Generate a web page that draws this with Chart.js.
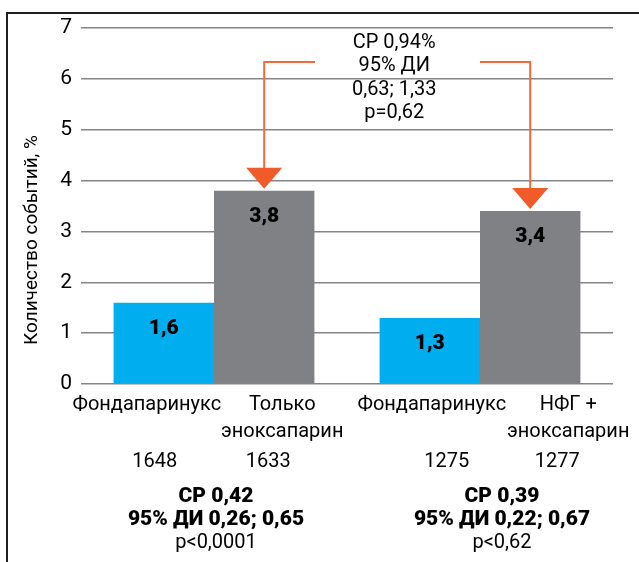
<!DOCTYPE html>
<html>
<head>
<meta charset="utf-8">
<script src="https://cdn.jsdelivr.net/npm/chart.js@4/dist/chart.umd.min.js"></script>
<style>
  html, body { margin: 0; padding: 0; background: #fff; }
  #wrap { width: 639px; height: 562px; position: relative; }
</style>
</head>
<body>
<div id="wrap"><canvas id="c"></canvas></div>
<script>
// ---- data ----
const groups = ['Группа 1', 'Группа 2'];
const fondaValues = [1.6, 1.3];
const comparatorValues = [3.8, 3.4];
const fondaLabels = [['Фондапаринукс'], ['Фондапаринукс']];
const comparatorLabels = [['Только', 'эноксапарин'], ['НФГ +', 'эноксапарин']];
const fondaN = ['1648', '1275'];
const comparatorN = ['1633', '1277'];
const groupStatsBold = [['СР 0,42', '95% ДИ 0,26; 0,65'], ['СР 0,39', '95% ДИ 0,22; 0,67']];
const groupStatsP = ['p<0,0001', 'p<0,62'];
const topAnnotation = ['СР 0,94%', '95% ДИ', '0,63; 1,33', 'p=0,62'];
const yAxisTitle = 'Количество событий, %';
const yMin = 0, yMax = 7, yStep = 1;

// ---- styles ----
const BLUE = '#00AEEF';
const GRAY = '#808184';
const ORANGE = '#F15A29';
const TEXT = '#000000';
const FONT = 'Roboto, "Open Sans", "DejaVu Sans", sans-serif';
// horizontal shifts of bottom labels relative to bar centers (style)
const fondaLabelShift = [-17, 2];
const compLabelShift = [18, 38];
const fondaNShift = [-9, 17];
const compNShift = [4, 27];

const fmt = v => String(v).replace('.', ',');

const overlay = {
  id: 'overlay',
  beforeDraw(chart) {
    const ctx = chart.ctx;
    ctx.save();
    ctx.fillStyle = '#fff';
    ctx.fillRect(0, 0, chart.width, chart.height);
    ctx.restore();
  },
  afterDatasetsDraw(chart) {
    const ctx = chart.ctx;
    const area = chart.chartArea;
    const metaF = chart.getDatasetMeta(0);
    const metaC = chart.getDatasetMeta(1);
    ctx.save();
    ctx.textAlign = 'center';
    ctx.textBaseline = 'middle';
    ctx.fillStyle = TEXT;

    // value labels inside bars
    ctx.font = '900 21px ' + FONT;
    [metaF, metaC].forEach((meta, di) => {
      meta.data.forEach((bar, j) => {
        const v = chart.data.datasets[di].data[j];
        ctx.fillText(fmt(v), bar.x, bar.y + 26);
      });
    });

    // bottom category labels
    const b = area.bottom;
    ctx.font = '20px ' + FONT;
    metaF.data.forEach((bar, j) => {
      fondaLabels[j].forEach((t, k) => ctx.fillText(t, bar.x + fondaLabelShift[j], b + 21 + k * 27));
      ctx.fillText(fondaN[j], bar.x + fondaNShift[j], b + 78);
    });
    metaC.data.forEach((bar, j) => {
      comparatorLabels[j].forEach((t, k) => ctx.fillText(t, bar.x + compLabelShift[j], b + 21 + k * 27));
      ctx.fillText(comparatorN[j], bar.x + compNShift[j], b + 78);
    });

    // group statistics
    const xs = chart.scales.x;
    groups.forEach((g, j) => {
      const cx = xs.getPixelForValue(j) + (j === 0 ? 2 : 22);
      ctx.font = '900 21px ' + FONT;
      groupStatsBold[j].forEach((t, k) => ctx.fillText(t, cx, b + 113 + k * 23));
      ctx.font = '20px ' + FONT;
      ctx.fillText(groupStatsP[j], cx, b + 159);
    });

    // top annotation text
    const left = metaC.data[0], right = metaC.data[1];
    const midX = (left.x + right.x) / 2 - 3;
    ctx.font = '20px ' + FONT;
    topAnnotation.forEach((t, k) => ctx.fillText(t, midX, area.top + 15 + k * 23.3));

    // arrows
    const lineY = area.top + 34;
    ctx.strokeStyle = '#F26A3B';
    ctx.lineWidth = 2;
    const drawArrow = (bar, hx) => {
      const tip = bar.y - 2;
      const headTop = tip - 21;
      ctx.beginPath();
      ctx.moveTo(hx, lineY);
      ctx.lineTo(bar.x, lineY);
      ctx.lineTo(bar.x, headTop + 1);
      ctx.stroke();
      ctx.fillStyle = ORANGE;
      ctx.beginPath();
      ctx.moveTo(bar.x - 18, headTop);
      ctx.lineTo(bar.x + 18, headTop);
      ctx.lineTo(bar.x, tip);
      ctx.closePath();
      ctx.fill();
    };
    drawArrow(left, 315);
    drawArrow(right, 480);

    // y axis title
    ctx.fillStyle = TEXT;
    ctx.font = '19px ' + FONT;
    ctx.translate(32, 240);
    ctx.rotate(-Math.PI / 2);
    ctx.fillText(yAxisTitle, 0, 0);
    ctx.restore();

    // frame
    ctx.save();
    ctx.strokeStyle = '#1f1f1f';
    ctx.lineWidth = 2;
    ctx.beginPath();
    ctx.moveTo(639, 13);
    ctx.lineTo(7, 13);
    ctx.lineTo(7, 562);
    ctx.stroke();
    ctx.restore();
  }
};

new Chart(document.getElementById('c'), {
  type: 'bar',
  data: {
    labels: groups,
    datasets: [
      { data: fondaValues, backgroundColor: BLUE, borderWidth: 0, barPercentage: 1, categoryPercentage: 0.755 },
      { data: comparatorValues, backgroundColor: GRAY, borderWidth: 0, barPercentage: 1, categoryPercentage: 0.755 }
    ]
  },
  options: {
    responsive: true,
    maintainAspectRatio: false,
    animation: false,
    layout: { padding: { left: 0, right: 26, top: 28, bottom: 0 } },
    plugins: { legend: { display: false }, tooltip: { enabled: false } },
    scales: {
      x: {
        ticks: { display: false },
        grid: { display: false, drawTicks: false },
        border: { display: false },
        afterFit(s) { s.height = 178; }
      },
      y: {
        min: yMin, max: yMax,
        ticks: { stepSize: yStep, color: TEXT, font: { size: 21, family: FONT }, padding: 9 },
        grid: { color: '#858585', lineWidth: 1.5, drawTicks: false },
        border: { display: false },
        afterFit(s) { s.width = 81; }
      }
    }
  },
  plugins: [overlay]
});
</script>
</body>
</html>
